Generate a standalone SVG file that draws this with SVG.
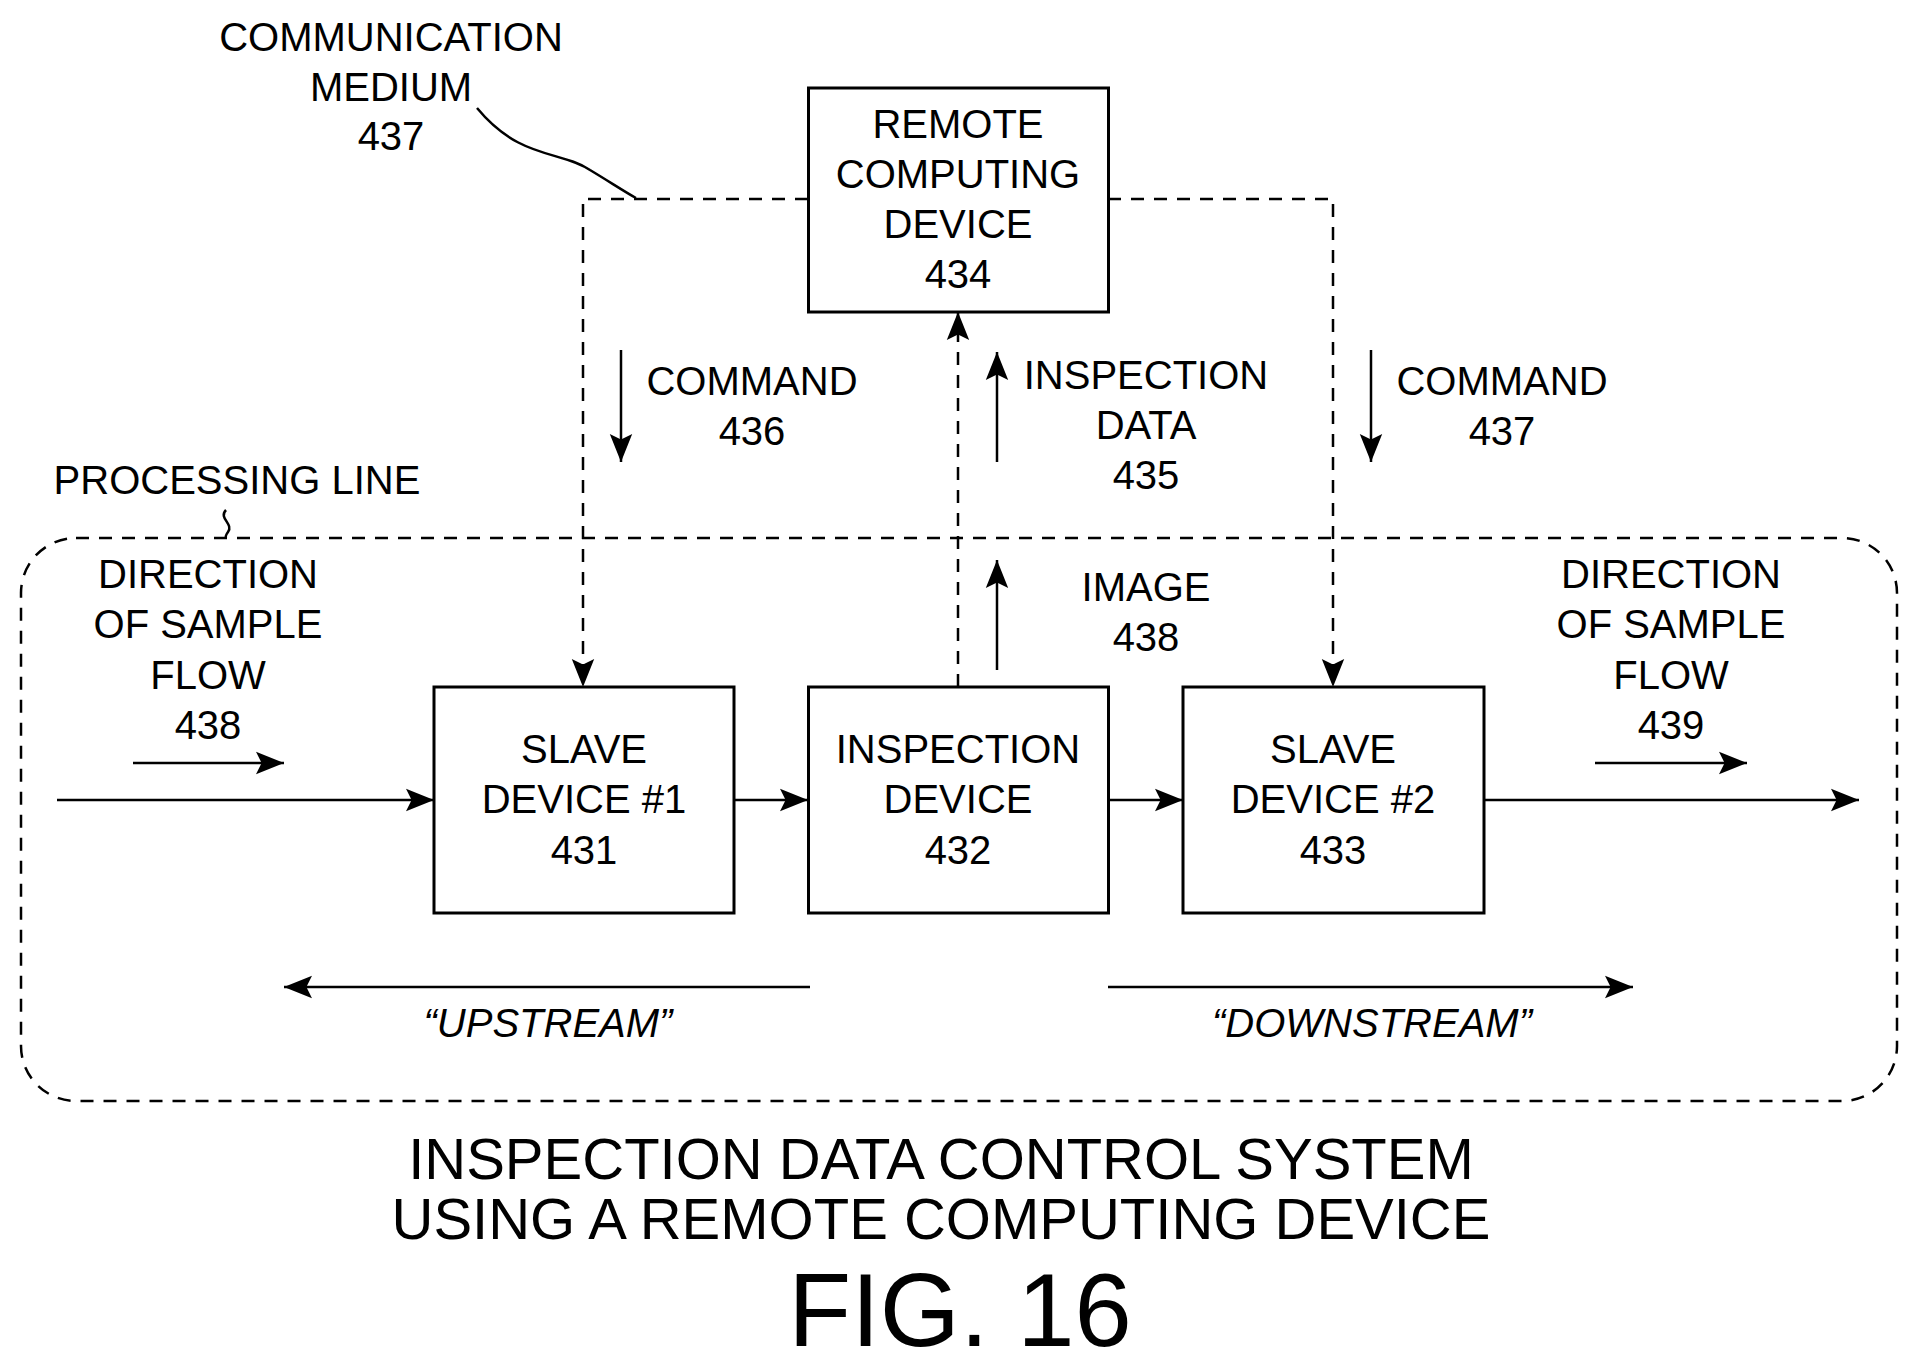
<svg xmlns="http://www.w3.org/2000/svg" width="1918" height="1368" viewBox="0 0 1918 1368">
<style>
text{font-family:"Liberation Sans",Arial,sans-serif;font-size:40px;text-anchor:middle;fill:#000}
.box{fill:#fff;stroke:#000;stroke-width:3}
.ln{fill:none;stroke:#000;stroke-width:2.5}
.ds{fill:none;stroke:#000;stroke-width:2.5;stroke-dasharray:13 10}
.it{font-style:italic}
</style>
<defs>
<marker id="a" viewBox="0 0 10 10" refX="10" refY="5" markerWidth="10" markerHeight="10" markerUnits="userSpaceOnUse" orient="auto"><path d="M0,0 L10,5 L0,10 L2,5 z" fill="#000"/></marker>
<marker id="b" viewBox="0 0 10 10" refX="10" refY="5" markerWidth="14" markerHeight="14" markerUnits="userSpaceOnUse" orient="auto"><path d="M0,0 L10,5 L0,10 L2,5 z" fill="#000"/></marker>
<marker id="c" viewBox="0 0 10 10" refX="10" refY="5" markerWidth="28" markerHeight="28" markerUnits="userSpaceOnUse" orient="auto"><path d="M0,1 L10,5 L0,9 L2,5 z" fill="#000"/></marker>
</defs>
<g id="processing-line">
<rect x="21" y="538" width="1876" height="563" rx="55" class="ds"/>
<text x="237" y="494">PROCESSING LINE</text>
<path d="M226,510 c-8,8 8,14 2,22 c-3,4 -2,6 -2,6" class="ln" stroke-width="2"/>
</g>
<g id="connectors">
<path d="M808,199 H583 V687" class="ds" marker-end="url(#c)"/>
<path d="M1108,199 H1333 V687" class="ds" marker-end="url(#c)"/>
<path d="M958,687 V312" class="ds" marker-end="url(#c)"/>
<path d="M57,800 H434" class="ln" marker-end="url(#c)"/>
<path d="M734,800 H808" class="ln" marker-end="url(#c)"/>
<path d="M1108,800 H1183" class="ln" marker-end="url(#c)"/>
<path d="M1484,800 H1859" class="ln" marker-end="url(#c)"/>
<path d="M621,350 V462" class="ln" marker-end="url(#c)"/>
<path d="M997,462 V352" class="ln" marker-end="url(#c)"/>
<path d="M1371,350 V462" class="ln" marker-end="url(#c)"/>
<path d="M997,670 V560" class="ln" marker-end="url(#c)"/>
<path d="M133,763 H284" class="ln" marker-end="url(#c)"/>
<path d="M1595,763 H1747" class="ln" marker-end="url(#c)"/>
<path d="M810,987 H284" class="ln" stroke-width="3" marker-end="url(#c)"/>
<path d="M1108,987 H1633" class="ln" stroke-width="3" marker-end="url(#c)"/>
<path d="M477,108 C520,160 560,150 590,170 C610,182 625,192 636,198" class="ln" stroke-width="2"/>
</g>
<g id="remote">
<rect x="808.5" y="88" width="300" height="224" class="box"/>
<text x="958" y="138">REMOTE</text><text x="958" y="188">COMPUTING</text><text x="958" y="238">DEVICE</text><text x="958" y="288">434</text>
</g>
<g id="slave1">
<rect x="434" y="687" width="300" height="226" class="box"/>
<text x="584" y="763">SLAVE</text><text x="584" y="813">DEVICE #1</text><text x="584" y="864">431</text>
</g>
<g id="inspection">
<rect x="808.5" y="687" width="300" height="226" class="box"/>
<text x="958" y="763">INSPECTION</text><text x="958" y="813">DEVICE</text><text x="958" y="864">432</text>
</g>
<g id="slave2">
<rect x="1183" y="687" width="301" height="226" class="box"/>
<text x="1333" y="763">SLAVE</text><text x="1333" y="813">DEVICE #2</text><text x="1333" y="864">433</text>
</g>
<g id="labels">
<text x="391" y="51">COMMUNICATION</text><text x="391" y="101">MEDIUM</text><text x="391" y="150">437</text>
<text x="752" y="395">COMMAND</text><text x="752" y="445">436</text>
<text x="1146" y="389">INSPECTION</text><text x="1146" y="439">DATA</text><text x="1146" y="489">435</text>
<text x="1502" y="395">COMMAND</text><text x="1502" y="445">437</text>
<text x="1146" y="601">IMAGE</text><text x="1146" y="651">438</text>
<text x="208" y="588">DIRECTION</text><text x="208" y="638">OF SAMPLE</text><text x="208" y="689">FLOW</text><text x="208" y="739">438</text>
<text x="1671" y="588">DIRECTION</text><text x="1671" y="638">OF SAMPLE</text><text x="1671" y="689">FLOW</text><text x="1671" y="739">439</text>
<text x="548" y="1037" class="it">“UPSTREAM”</text>
<text x="1372" y="1037" class="it">“DOWNSTREAM”</text>
<text x="941" y="1179" style="font-size:58px">INSPECTION DATA CONTROL SYSTEM</text>
<text x="941" y="1239" style="font-size:58px">USING A REMOTE COMPUTING DEVICE</text>
<text x="960" y="1346" style="font-size:103px">FIG. 16</text>
</g>
</svg>
